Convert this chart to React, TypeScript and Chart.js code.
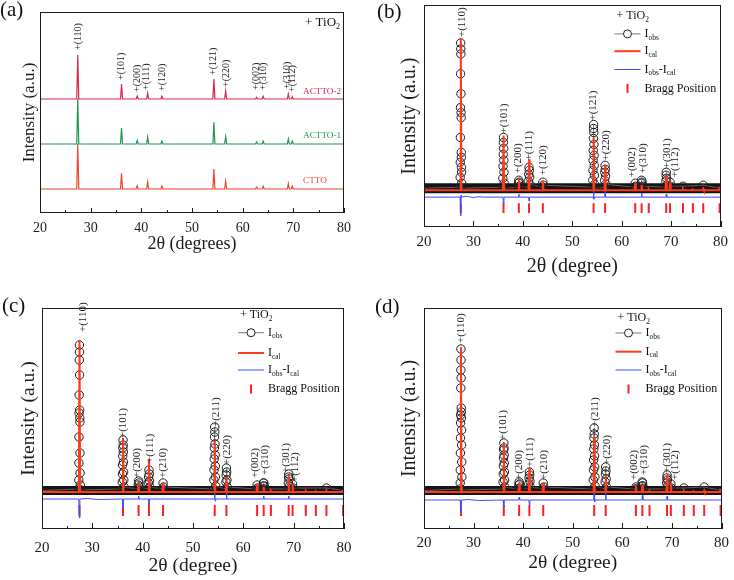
import React, { useEffect, useRef } from "react";
import { Chart, registerables } from "chart.js";
Chart.register(...registerables);

const SERIF = '"Liberation Serif", "Times New Roman", Times, serif';

// ---------------- shared ----------------
const braggPositions = [27.45, 36.09, 39.19, 41.25, 44.05, 54.32, 56.64, 62.74, 64.04, 65.48, 69.01, 69.79, 72.41, 74.41, 76.51, 79.82];

// ---------------- panel (a) ----------------
const peakPositionsA = [27.45, 36.09, 39.19, 41.25, 44.05, 54.32, 56.64, 62.74, 64.04, 69.01, 69.79];
const seriesNamesA = ["ACTTO-2", "ACTTO-1", "CTTO"];
const baselinesA = [114, 69, 24];
const heightsACTTO2 = [44, 15, 3, 6, 2.7, 20, 8, 1.7, 2.7, 5, 2.3];
const heightsACTTO1 = [45, 16, 3.5, 7, 3, 21.7, 7.3, 2, 2.7, 5, 3];
const heightsCTTO = [45, 15.7, 3.3, 7, 3, 20, 7.7, 2, 2.7, 5.3, 3];
const labelsA: [string, number, number][] = [
  ["+(110)", 27.5, 163], ["+(101)", 36.1, 133], ["+(200)", 39.2, 121], ["+(111)", 41.05, 123],
  ["+(120)", 44.1, 122], ["+(121)", 54.2, 138], ["+(220)", 56.7, 126], ["+(002)", 62.8, 123],
  ["+(310)", 64.1, 123], ["+(310)", 68.8, 124], ["+(112)", 69.9, 121],
];

// ---------------- panel (b) ----------------
const icalB = [153, 55, 11, 31, 10, 53, 25, 7, 5, 1, 15, 8, 1, 0.5, 1.5, 1];
const obsB: [number, number][] = [
  [20, 2],
  [27.28, 3], [27.32, 13], [27.34, 28], [27.36, 53], [27.38, 83], [27.4, 117], [27.42, 148], [27.44, 142], [27.46, 137],
  [27.48, 97], [27.5, 78], [27.52, 73], [27.54, 38], [27.56, 33], [27.58, 23], [27.6, 18], [27.62, 7], [27.7, 2],
  [35.92, 3], [35.96, 12], [36.0, 24], [36.03, 36], [36.06, 48], [36.09, 53], [36.12, 42], [36.15, 30], [36.18, 18], [36.22, 7], [36.3, 2],
  [39.05, 3], [39.12, 7], [39.19, 10], [39.26, 8], [39.33, 4],
  [41.05, 3], [41.12, 9], [41.19, 16], [41.25, 23], [41.31, 20], [41.38, 13], [41.45, 6],
  [43.95, 3], [44.05, 8], [44.15, 5],
  [54.1, 3], [54.15, 10], [54.19, 20], [54.22, 30], [54.25, 40], [54.28, 52], [54.3, 62], [54.33, 66], [54.36, 58],
  [54.39, 46], [54.42, 35], [54.45, 25], [54.48, 15], [54.52, 6], [54.6, 2],
  [56.48, 3], [56.54, 10], [56.59, 18], [56.64, 25], [56.69, 21], [56.74, 14], [56.8, 6],
  [62.62, 3], [62.74, 7], [62.86, 4],
  [63.88, 3], [63.96, 7], [64.04, 10], [64.12, 8], [64.2, 4],
  [68.88, 3], [68.94, 9], [68.99, 15], [69.03, 18], [69.08, 12], [69.14, 5],
  [69.7, 3], [69.79, 8], [69.88, 4],
  [72.41, 4], [76.51, 5], [80, 2],
];
const diffB: [number, number][] = [
  [20, -7], [27.3, -7], [27.42, -26], [27.5, -5], [27.6, -7], [28.5, -6], [30, -7.5], [31, -6.5], [32, -7],
  [35.98, -7], [36.08, -14], [36.18, -7], [39.12, -7], [39.2, -4], [39.28, -7], [41.15, -7], [41.25, -11], [41.35, -7],
  [54.22, -7], [54.3, 3], [54.4, -9], [54.5, -7], [56.56, -7], [56.65, -1], [56.74, -7], [63.96, -7], [64.05, -3], [64.14, -7],
  [68.94, -7], [69.03, -4], [69.12, -7], [80, -7],
];
const braggRangeB: [number, number] = [-13, -23];
const labelsB: [string, number, number][] = [
  ["+(110)", 27.62, 154], ["+(101)", 36.2, 57], ["+(200)", 39.0, 17], ["+(111)", 41.2, 30], ["+(120)", 44.2, 15],
  ["+(121)", 54.3, 70], ["+(220)", 56.9, 30], ["+(002)", 62.1, 13], ["+(310)", 64.4, 17], ["+(301)", 69.1, 22], ["+(112)", 70.8, 13],
];

// ---------------- panel (c) ----------------
const icalC = [152, 54, 9, 33, 9, 51, 15, 8, 5, 1, 17, 8, 1, 0.5, 1.5, 1];
const obsC: [number, number][] = [
  [20, 1.5],
  [27.28, 3], [27.31, 12], [27.33, 29], [27.35, 55], [27.37, 79], [27.39, 97], [27.41, 132], [27.43, 147], [27.45, 140],
  [27.47, 117], [27.49, 82], [27.51, 74], [27.53, 70], [27.55, 39], [27.57, 19], [27.6, 7], [27.68, 2],
  [35.92, 3], [35.95, 10], [35.98, 18], [36.01, 27], [36.04, 36], [36.07, 44], [36.1, 52], [36.13, 47], [36.16, 40],
  [36.19, 30], [36.22, 20], [36.25, 12], [36.29, 5],
  [39.05, 3], [39.12, 7], [39.19, 11], [39.26, 9], [39.33, 5],
  [41.06, 3], [41.12, 9], [41.18, 15], [41.25, 22], [41.31, 18], [41.37, 11], [41.44, 5],
  [43.95, 3], [44.05, 9], [44.15, 5],
  [54.1, 3], [54.14, 12], [54.18, 22], [54.21, 33], [54.24, 44], [54.27, 55], [54.31, 65], [54.34, 60], [54.37, 48],
  [54.4, 37], [54.43, 26], [54.46, 15], [54.51, 6],
  [56.48, 3], [56.54, 10], [56.59, 17], [56.64, 24], [56.69, 20], [56.74, 12], [56.8, 5],
  [62.62, 3], [62.74, 7], [62.86, 4],
  [63.85, 3], [63.93, 6], [64.0, 9], [64.08, 9], [64.15, 6], [64.23, 3],
  [68.88, 3], [68.94, 9], [68.99, 15], [69.03, 18], [69.08, 13], [69.14, 6],
  [69.7, 3], [69.79, 8], [69.88, 4],
  [76.51, 4], [80, 1.5],
];
const diffC: [number, number][] = [
  [20, -7], [27.3, -7], [27.42, -26], [27.52, -7], [29, -6.5], [31, -7.5], [35.98, -7], [36.08, -16], [36.18, -7],
  [39.12, -7], [39.2, -4], [39.28, -7], [41.15, -7], [41.25, -13], [41.35, -7], [54.22, -7], [54.3, 2], [54.4, -9], [54.5, -7],
  [56.56, -7], [56.65, -1], [56.74, -7], [63.96, -7], [64.05, -4], [64.14, -7], [68.94, -7], [69.03, -4], [69.12, -7], [80, -7],
];
const braggRangeC: [number, number] = [-13, -24];
const labelsC: [string, number, number][] = [
  ["+(110)", 28.26, 160], ["+(101)", 36.2, 54], ["+(200)", 38.85, 14], ["+(111)", 41.5, 29], ["+(210)", 44.1, 14],
  ["+(211)", 54.5, 65], ["+(220)", 56.7, 27], ["+(002)", 62.3, 14], ["+(310)", 64.3, 17], ["+(301)", 68.5, 19], ["+(112)", 70.3, 10],
];

// ---------------- panel (d) ----------------
const icalD = [145, 50, 9, 24, 9, 55, 17, 7, 7, 1, 17, 9, 1, 0.5, 1.5, 1];
const obsD: [number, number][] = [
  [20, 1.5],
  [27.27, 3], [27.3, 9], [27.32, 22], [27.34, 39], [27.36, 54], [27.38, 69], [27.4, 77], [27.42, 104], [27.44, 122], [27.45, 143],
  [27.47, 132], [27.49, 114], [27.51, 84], [27.53, 80], [27.55, 74], [27.57, 62], [27.59, 47], [27.61, 30], [27.63, 15], [27.7, 2],
  [35.92, 3], [35.95, 10], [35.98, 18], [36.01, 26], [36.04, 34], [36.07, 42], [36.1, 49], [36.13, 44], [36.16, 37],
  [36.19, 29], [36.22, 20], [36.25, 12], [36.29, 5],
  [39.05, 3], [39.12, 7], [39.19, 10], [39.26, 8], [39.33, 4],
  [41.06, 3], [41.12, 8], [41.18, 14], [41.25, 20], [41.31, 17], [41.37, 11], [41.44, 5],
  [43.95, 3], [44.05, 9], [44.15, 5],
  [54.1, 3], [54.14, 12], [54.18, 22], [54.21, 32], [54.24, 43], [54.27, 54], [54.31, 64], [54.34, 58], [54.37, 47],
  [54.4, 36], [54.43, 25], [54.46, 15], [54.51, 6],
  [56.48, 3], [56.54, 10], [56.59, 18], [56.64, 25], [56.69, 21], [56.74, 13], [56.8, 5],
  [62.62, 3], [62.74, 5], [62.86, 3],
  [63.85, 3], [63.93, 6], [64.0, 10], [64.08, 9], [64.15, 6], [64.23, 3],
  [68.88, 3], [68.94, 9], [68.99, 14], [69.03, 17], [69.08, 12], [69.14, 6],
  [69.7, 3], [69.79, 8], [69.88, 4],
  [72.41, 4], [76.51, 5], [80, 1.5],
];
const diffD: [number, number][] = [
  [20, -8], [27.3, -8], [27.42, -20], [27.52, -8], [29, -7.5], [31, -8.5], [35.98, -8], [36.08, -15], [36.18, -8],
  [39.12, -8], [39.2, -5], [39.28, -8], [41.15, -8], [41.25, -13], [41.35, -8], [54.22, -8], [54.3, 7], [54.4, -10], [54.5, -8],
  [56.56, -8], [56.65, 0], [56.74, -8], [63.96, -8], [64.05, -3], [64.14, -8], [68.94, -8], [69.03, -4], [69.12, -8], [80, -8],
];
const braggRangeD: [number, number] = [-13, -24];
const labelsD: [string, number, number][] = [
  ["+(110)", 27.48, 149], ["+(101)", 35.9, 52], ["+(200)", 39.1, 12], ["+(111)", 41.35, 25], ["+(210)", 44.3, 12],
  ["+(211)", 54.5, 65], ["+(220)", 56.9, 27], ["+(002)", 62.4, 12], ["+(310)", 64.3, 17], ["+(301)", 69.1, 19], ["+(112)", 70.7, 12],
];

// ---------------- colours ----------------
const colorsA = ["#d8264d", "#1f9655", "#f0452b"];
const COL_CAL = "#ff3a1a";
const COL_DIFF = "#3b4cff";
const COL_BRAGG = "#ff1f2a";
const INK = "#1c1c1c";

// ---------------- helpers ----------------
function profile(positions: number[], heights: number[], base: number, hw: number) {
  const pts: { x: number; y: number }[] = [{ x: 20, y: base }];
  positions.forEach((c, i) => {
    pts.push({ x: c - hw, y: base }, { x: c, y: base + heights[i] }, { x: c + hw, y: base });
  });
  pts.push({ x: 80, y: base });
  return pts;
}
const toPts = (arr: [number, number][]) => arr.map(([x, y]) => ({ x, y }));
function braggSegments(range: [number, number]) {
  const pts: { x: number; y: number | null }[] = [];
  braggPositions.forEach((x) => {
    pts.push({ x, y: range[0] }, { x, y: range[1] }, { x, y: null });
  });
  return pts;
}

function drawRich(ctx: CanvasRenderingContext2D, parts: [string, boolean][], x: number, y: number, size: number) {
  let cx = x;
  ctx.textAlign = "left";
  ctx.textBaseline = "middle";
  for (const [t, sub] of parts) {
    const s = sub ? size * 0.62 : size;
    ctx.font = `${s}px ${SERIF}`;
    ctx.fillText(t, cx, sub ? y + size * 0.32 : y);
    cx += ctx.measureText(t).width;
  }
}

type Geo = {
  left: number; right: number; top: number; bottom: number;
  yMin: number; yMax: number;
  tickSize: number; tickPad: number;
  xTitle: string; xTitleSize: number; xTitlePad: number;
  yTitleSize: number; yTitlePad: number;
  majorLen: number; minorLen: number;
  tag: string; tagX: number; tagY: number; tagSize: number;
  labels: [string, number, number][]; labelSize: number;
  legendRows?: number[];
  seriesLabels?: [string, string, number][];
  tio2?: [number, number];
};

const W = 367, H = 290;

function makePlugin(g: Geo) {
  return {
    id: "panelDecor",
    afterDatasetsDraw(chart: any) {
      const { ctx, chartArea: a, scales } = chart;
      const xs = scales.x, ys = scales.y;
      ctx.save();
      // frame
      ctx.strokeStyle = INK;
      ctx.lineWidth = 1;
      ctx.strokeRect(Math.round(a.left) + 0.5, Math.round(a.top) + 0.5, Math.round(a.right - a.left) - 1, Math.round(a.bottom - a.top) - 1);
      // inward ticks
      const tv = xs.ticks.map((t: any) => t.value);
      ctx.beginPath();
      tv.forEach((v: number, i: number) => {
        const px = Math.round(xs.getPixelForValue(v)) + 0.5;
        ctx.moveTo(px, a.bottom);
        ctx.lineTo(px, a.bottom - g.majorLen);
        if (i < tv.length - 1) {
          const m = Math.round(xs.getPixelForValue((v + tv[i + 1]) / 2)) + 0.5;
          ctx.moveTo(m, a.bottom);
          ctx.lineTo(m, a.bottom - g.minorLen);
        }
      });
      ctx.stroke();
      // peak labels (rotated)
      ctx.fillStyle = "#222";
      ctx.font = `${g.labelSize}px ${SERIF}`;
      ctx.textAlign = "left";
      ctx.textBaseline = "middle";
      g.labels.forEach(([t, x, y]) => {
        ctx.save();
        ctx.translate(xs.getPixelForValue(x), ys.getPixelForValue(y));
        ctx.rotate(-Math.PI / 2);
        ctx.fillText(t, 0, 0);
        ctx.restore();
      });
      // series labels (panel a)
      if (g.seriesLabels) {
        ctx.font = `9.2px ${SERIF}`;
        g.seriesLabels.forEach(([t, col, y]) => {
          ctx.fillStyle = col;
          ctx.fillText(t, a.right - 41, ys.getPixelForValue(y));
        });
      }
      ctx.fillStyle = "#111";
      if (g.tio2) {
        drawRich(ctx, [["+ TiO", false], ["2", true]], a.right - g.tio2[0], a.top + g.tio2[1], 13);
      }
      // legend (b-d)
      if (g.legendRows) {
        const r = g.legendRows.map((v) => a.top + v);
        const x0 = a.right - 106, x1 = a.right - 80, xm = a.right - 93, xt = a.right - 76;
        const fs = 12;
        ctx.fillStyle = "#111";
        drawRich(ctx, [["+ TiO", false], ["2", true]], x0 + 2, r[0], fs);
        // Iobs
        ctx.strokeStyle = "#777";
        ctx.lineWidth = 1;
        ctx.beginPath(); ctx.moveTo(x0, r[1]); ctx.lineTo(x1, r[1]); ctx.stroke();
        ctx.fillStyle = "#fff";
        ctx.strokeStyle = "#222";
        ctx.beginPath(); ctx.arc(xm, r[1], 4, 0, Math.PI * 2); ctx.fill(); ctx.stroke();
        ctx.fillStyle = "#111";
        drawRich(ctx, [["I", false], ["obs", true]], xt, r[1], fs);
        // Ical
        ctx.strokeStyle = COL_CAL; ctx.lineWidth = 2;
        ctx.beginPath(); ctx.moveTo(x0, r[2]); ctx.lineTo(x1, r[2]); ctx.stroke();
        drawRich(ctx, [["I", false], ["cal", true]], xt, r[2], fs);
        // diff
        ctx.strokeStyle = COL_DIFF; ctx.lineWidth = 1;
        ctx.beginPath(); ctx.moveTo(x0, r[3]); ctx.lineTo(x1, r[3]); ctx.stroke();
        drawRich(ctx, [["I", false], ["obs", true], ["-I", false], ["cal", true]], xt, r[3], fs);
        // Bragg
        ctx.strokeStyle = COL_BRAGG; ctx.lineWidth = 2;
        ctx.beginPath(); ctx.moveTo(xm, r[4] - 4.5); ctx.lineTo(xm, r[4] + 4.5); ctx.stroke();
        drawRich(ctx, [["Bragg Position", false]], xt, r[4], fs);
      }
      // panel tag
      ctx.fillStyle = "#111";
      ctx.font = `${g.tagSize}px ${SERIF}`;
      ctx.textAlign = "left";
      ctx.textBaseline = "middle";
      ctx.fillText(g.tag, g.tagX, g.tagY);
      ctx.restore();
    },
  };
}

function makeConfig(g: Geo, datasets: any[]) {
  return {
    type: "line",
    data: { datasets },
    options: {
      responsive: false,
      animation: false,
      events: [],
      layout: { padding: { left: 0, right: W - g.right, top: g.top, bottom: 0 } },
      plugins: { legend: { display: false }, tooltip: { enabled: false } },
      scales: {
        x: {
          type: "linear",
          min: 20,
          max: 80,
          ticks: { stepSize: 10, color: INK, padding: g.tickPad, maxRotation: 0, autoSkip: false, font: { family: SERIF, size: g.tickSize } },
          grid: { display: false, drawTicks: false },
          border: { display: false },
          title: { display: true, text: g.xTitle, color: INK, font: { family: SERIF, size: g.xTitleSize }, padding: { top: 0, bottom: g.xTitlePad } },
          afterFit: (s: any) => { s.height = H - g.bottom; },
        },
        y: {
          type: "linear",
          min: g.yMin,
          max: g.yMax,
          ticks: { display: false },
          grid: { display: false, drawTicks: false },
          border: { display: false },
          title: { display: true, text: "Intensity (a.u.)", color: INK, font: { family: SERIF, size: g.yTitleSize }, padding: { top: g.yTitlePad, bottom: 0 } },
          afterFit: (s: any) => { s.width = g.left; },
        },
      },
    },
    plugins: [makePlugin(g)],
  };
}

function refinementDatasets(obs: [number, number][], ical: number[], diff: [number, number][], range: [number, number], bandY: number, bandW: number) {
  return [
    { label: "Ical", data: profile(braggPositions, ical, 0, 0.12), borderColor: COL_CAL, borderWidth: 2, pointRadius: 0, order: 1 },
    { label: "Iobs-Ical", data: toPts(diff), borderColor: COL_DIFF, borderWidth: 1, pointRadius: 0, order: 2 },
    { label: "Bragg Position", data: braggSegments(range), borderColor: COL_BRAGG, borderWidth: 2, pointRadius: 0, spanGaps: false, order: 2 },
    {
      label: "Iobs", data: toPts(obs), borderColor: "#777", borderWidth: 0.8, pointRadius: 4.2, pointBorderWidth: 1,
      pointBorderColor: "#1e1e1e", pointBackgroundColor: "rgba(255,255,255,0)", order: 3,
    },
    { label: "Iobs baseline", data: [{ x: 20, y: bandY }, { x: 80, y: bandY }], borderColor: "#141414", borderWidth: bandW, pointRadius: 0, order: 4 },
  ];
}

const geoA: Geo = {
  left: 40, right: 344, top: 12, bottom: 213, yMin: 0, yMax: 201,
  tickSize: 14, tickPad: 7, xTitle: "2θ (degrees)", xTitleSize: 18, xTitlePad: 35, yTitleSize: 17, yTitlePad: 19,
  majorLen: 5, minorLen: 3, tag: "(a)", tagX: 0, tagY: 10, tagSize: 21,
  labels: labelsA, labelSize: 10,
  seriesLabels: [[seriesNamesA[0], colorsA[0], baselinesA[0] + 7], [seriesNamesA[1], colorsA[1], baselinesA[1] + 8], [seriesNamesA[2], colorsA[2], baselinesA[2] + 8]],
  tio2: [39, 11],
};
const geoB: Geo = {
  left: 57, right: 358, top: 4, bottom: 227, yMin: -37, yMax: 186,
  tickSize: 15, tickPad: 6, xTitle: "2θ (degree)", xTitleSize: 20, xTitlePad: 11, yTitleSize: 20, yTitlePad: 31,
  majorLen: 6, minorLen: 3, tag: "(b)", tagX: 10, tagY: 12, tagSize: 21,
  labels: labelsB, labelSize: 11, legendRows: [11, 28.7, 46, 64.3, 83.3],
};
const geoC: Geo = {
  left: 42, right: 344, top: 18, bottom: 239, yMin: -37, yMax: 184,
  tickSize: 15, tickPad: 10, xTitle: "2θ (degree)", xTitleSize: 19.5, xTitlePad: 2, yTitleSize: 19.5, yTitlePad: 17,
  majorLen: 6, minorLen: 3, tag: "(c)", tagX: 2, tagY: 16, tagSize: 21,
  labels: labelsC, labelSize: 11, legendRows: [7, 24.7, 45, 62, 81],
};
const geoD: Geo = {
  left: 57, right: 358, top: 18, bottom: 239, yMin: -37, yMax: 184,
  tickSize: 15, tickPad: 5, xTitle: "2θ (degree)", xTitleSize: 19.5, xTitlePad: 5, yTitleSize: 20, yTitlePad: 31,
  majorLen: 6, minorLen: 3, tag: "(d)", tagX: 8, tagY: 17, tagSize: 21,
  labels: labelsD, labelSize: 11, legendRows: [10, 25, 43.7, 62, 81],
};

function datasetsA() {
  const hs = [heightsACTTO2, heightsACTTO1, heightsCTTO];
  return seriesNamesA.map((name, i) => ({
    label: name,
    data: profile(peakPositionsA, hs[i], baselinesA[i], 0.2),
    borderColor: colorsA[i],
    borderWidth: 1.2,
    pointRadius: 0,
  }));
}

function Panel({ geo, datasets, left, top }: { geo: Geo; datasets: () => any[]; left: number; top: number }) {
  const ref = useRef<HTMLCanvasElement>(null);
  useEffect(() => {
    const chart = new Chart(ref.current as HTMLCanvasElement, makeConfig(geo, datasets()) as any);
    return () => chart.destroy();
  }, []);
  return <canvas ref={ref} width={W} height={H} style={{ position: "absolute", left, top, width: W, height: H }} />;
}

export default function App() {
  return (
    <div style={{ position: "fixed", left: 0, top: 0, width: 734, height: 580, background: "#fff" }}>
      <Panel geo={geoA} datasets={datasetsA} left={0} top={0} />
      <Panel geo={geoB} datasets={() => refinementDatasets(obsB, icalB, diffB, braggRangeB, 2, 10)} left={367} top={0} />
      <Panel geo={geoC} datasets={() => refinementDatasets(obsC, icalC, diffC, braggRangeC, 1.5, 9)} left={0} top={290} />
      <Panel geo={geoD} datasets={() => refinementDatasets(obsD, icalD, diffD, braggRangeD, 1.5, 9)} left={367} top={290} />
    </div>
  );
}
